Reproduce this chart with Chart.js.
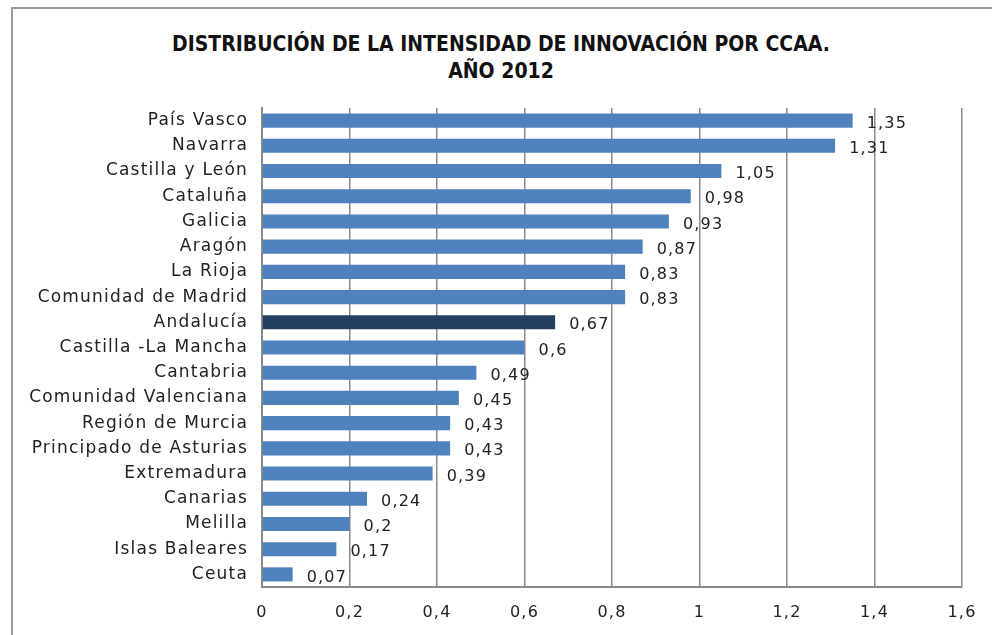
<!DOCTYPE html>
<html>
<head>
<meta charset="utf-8">
<script src="https://cdn.jsdelivr.net/npm/chart.js@4.4.1/dist/chart.umd.min.js"></script>
<style>
  html, body { margin: 0; padding: 0; background: #fff; }
  #wrap { position: relative; width: 992px; height: 635px; overflow: hidden; }
  #frame { position: absolute; left: 11px; top: 7px; width: 1000px; height: 700px; border: 2px solid #9a9a9a; box-sizing: border-box; }
  #title { position: absolute; left: 0; top: 31px; width: 1002px; text-align: center;
    font-family: 'DejaVu Sans Condensed', 'DejaVu Sans', sans-serif;
    font-weight: bold; font-size: 21px; line-height: 27px; color: #111; }
  canvas { position: absolute; left: 0; top: 0; }
</style>
</head>
<body>
<div id="wrap">
  <div id="frame"></div>
  <div id="title">DISTRIBUCIÓN DE LA INTENSIDAD DE INNOVACIÓN POR CCAA.<br>AÑO 2012</div>
  <canvas id="c" width="992" height="635"></canvas>
</div>
<script>
const categories = ['País Vasco', 'Navarra', 'Castilla y León', 'Cataluña', 'Galicia', 'Aragón', 'La Rioja',
  'Comunidad de Madrid', 'Andalucía', 'Castilla -La Mancha', 'Cantabria', 'Comunidad Valenciana',
  'Región de Murcia', 'Principado de Asturias', 'Extremadura', 'Canarias', 'Melilla', 'Islas Baleares', 'Ceuta'];
const values = [1.35, 1.31, 1.05, 0.98, 0.93, 0.87, 0.83, 0.83, 0.67, 0.6, 0.49, 0.45, 0.43, 0.43, 0.39, 0.24, 0.2, 0.17, 0.07];
const xTicks = [0, 0.2, 0.4, 0.6, 0.8, 1, 1.2, 1.4, 1.6];
const highlight = 'Andalucía';

const FONT = "'DejaVu Sans', sans-serif";
const barColors = categories.map(c => c === highlight ? '#243f60' : '#4f81bd');
const fmt = v => String(v).replace('.', ',');

// wider text, closer to the original Century Gothic
const spacing = {
  id: 'spacing',
  beforeDraw(chart) { chart.ctx.letterSpacing = '1.2px'; }
};

const valueLabels = {
  id: 'valueLabels',
  afterDatasetsDraw(chart) {
    const ctx = chart.ctx;
    const meta = chart.getDatasetMeta(0);
    ctx.save();
    ctx.font = '16px ' + FONT;
    ctx.fillStyle = '#222';
    ctx.textAlign = 'left';
    ctx.textBaseline = 'middle';
    meta.data.forEach((bar, i) => {
      ctx.fillText(fmt(values[i]), bar.x + 14, bar.y + 3);
    });
    ctx.restore();
  }
};

new Chart(document.getElementById('c').getContext('2d'), {
  type: 'bar',
  data: {
    labels: categories,
    datasets: [{
      data: values,
      backgroundColor: barColors,
      borderWidth: 0,
      categoryPercentage: 1,
      barPercentage: 0.56
    }]
  },
  options: {
    indexAxis: 'y',
    responsive: false,
    animation: false,
    layout: { padding: { left: 0, right: 30, top: 108, bottom: 0 } },
    plugins: { legend: { display: false }, tooltip: { enabled: false } },
    scales: {
      x: {
        min: 0, max: 1.6,
        afterBuildTicks: s => { s.ticks = xTicks.map(v => ({ value: v })); },
        afterFit: s => { s.height = 48; },
        ticks: { color: '#222', font: { family: FONT, size: 16 }, padding: 16, callback: v => fmt(v) },
        grid: { color: '#8a8a8a', lineWidth: 1.5, drawTicks: false },
        border: { color: '#8a8a8a', width: 2 }
      },
      y: {
        afterFit: s => { s.width = 262; },
        ticks: { color: '#222', font: { family: FONT, size: 17 }, padding: 14 },
        grid: { display: false, drawTicks: false },
        border: { color: '#8a8a8a', width: 2 }
      }
    }
  },
  plugins: [spacing, valueLabels]
});
</script>
</body>
</html>
